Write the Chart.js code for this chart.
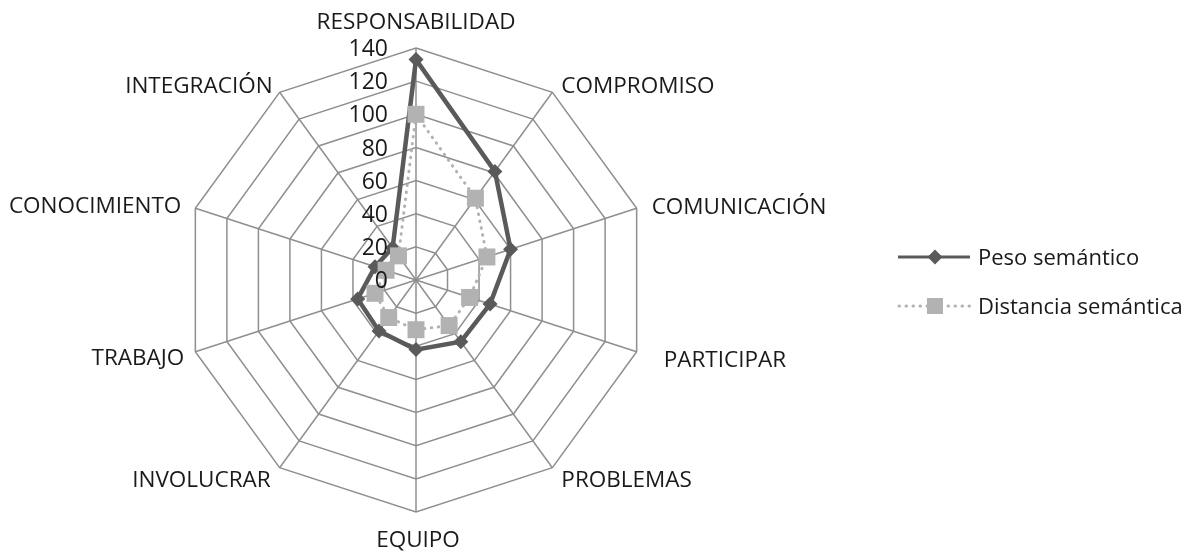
<!DOCTYPE html>
<html>
<head>
<meta charset="utf-8">
<script src="https://cdn.jsdelivr.net/npm/chart.js@4.4.0/dist/chart.umd.min.js"></script>
<style>
  html, body { margin: 0; padding: 0; background: #fff; }
  #wrap { width: 1194px; height: 552px; position: relative; }
</style>
</head>
<body>
<div id="wrap"><canvas id="radar"></canvas></div>
<script>
// categories, clockwise from the top
const categories = ['RESPONSABILIDAD', 'COMPROMISO', 'COMUNICACIÓN', 'PARTICIPAR', 'PROBLEMAS',
  'EQUIPO', 'INVOLUCRAR', 'TRABAJO', 'CONOCIMIENTO', 'INTEGRACIÓN'];
const pesoSemantico = [133, 81, 60, 47, 46, 42, 38, 37, 26, 24];
const distanciaSemantica = [100, 61, 45, 34, 34, 30, 28, 26, 19, 18];
const tickValues = [0, 20, 40, 60, 80, 100, 120, 140];
const seriesNames = ['Peso semántico', 'Distancia semántica'];

const DARK = '#5a5a5a';
const LIGHT = '#b2b2b2';
const GRID = '#8f8f8f';
const TEXT = '#1a1a1a';
const FONT = '"Open Sans", "Noto Sans", sans-serif';

// excel puts the category names a bit off the spokes, nudge each one
const labelNudge = [
  {dx: 0, dy: -27, align: 'center'},
  {dx: 9, dy: -7, align: 'left'},
  {dx: 15, dy: -2, align: 'left'},
  {dx: 27, dy: 7, align: 'left'},
  {dx: 9, dy: 11, align: 'left'},
  {dx: 2, dy: 27, align: 'center'},
  {dx: -9, dy: 11, align: 'right'},
  {dx: -11, dy: 5, align: 'right'},
  {dx: -14, dy: -3, align: 'right'},
  {dx: -7, dy: -7, align: 'right'},
];

const labelsPlugin = {
  id: 'excelLabels',
  afterDatasetsDraw(chart) {
    const ctx = chart.ctx;
    const scale = chart.scales.r;
    ctx.save();
    ctx.fillStyle = TEXT;
    ctx.textBaseline = 'alphabetic';

    // category names
    const size = 22.5;
    ctx.font = size + 'px ' + FONT;
    categories.forEach((name, i) => {
      const p = scale.getPointPosition(i, scale.drawingArea);
      const n = labelNudge[i];
      ctx.textAlign = n.align;
      ctx.fillText(name, p.x + n.dx, p.y + n.dy + size * 0.357);
    });

    // value axis labels, left of the vertical spoke
    const tsize = 23;
    ctx.font = tsize + 'px ' + FONT;
    ctx.textAlign = 'right';
    tickValues.forEach((v) => {
      const y = scale.yCenter - scale.getDistanceFromCenterForValue(v);
      ctx.fillText(String(v), scale.xCenter - 28, y + tsize * 0.357);
    });
    ctx.restore();
  }
};

const legendPlugin = {
  id: 'excelLegend',
  afterDraw(chart) {
    const ctx = chart.ctx;
    const x0 = 898, x1 = 970, xm = 935;
    const rows = [257, 306];
    ctx.save();

    // peso: solid line with diamond
    ctx.strokeStyle = DARK;
    ctx.lineWidth = 3;
    ctx.beginPath();
    ctx.moveTo(x0, rows[0]);
    ctx.lineTo(x1, rows[0]);
    ctx.stroke();
    ctx.fillStyle = DARK;
    ctx.beginPath();
    ctx.moveTo(xm - 7.5, rows[0]);
    ctx.lineTo(xm, rows[0] - 7.5);
    ctx.lineTo(xm + 7.5, rows[0]);
    ctx.lineTo(xm, rows[0] + 7.5);
    ctx.closePath();
    ctx.fill();

    // distancia: dotted line with square
    ctx.strokeStyle = LIGHT;
    ctx.lineWidth = 3;
    ctx.lineCap = 'round';
    ctx.setLineDash([0.5, 6.5]);
    ctx.beginPath();
    ctx.moveTo(x0 + 1, rows[1]);
    ctx.lineTo(x1, rows[1]);
    ctx.stroke();
    ctx.setLineDash([]);
    ctx.fillStyle = LIGHT;
    ctx.fillRect(xm - 8, rows[1] - 8, 16, 16);

    const size = 22;
    ctx.font = size + 'px ' + FONT;
    ctx.fillStyle = TEXT;
    ctx.textAlign = 'left';
    ctx.textBaseline = 'alphabetic';
    seriesNames.forEach((name, i) => {
      ctx.fillText(name, 978, rows[i] + size * 0.357);
    });
    ctx.restore();
  }
};

new Chart(document.getElementById('radar'), {
  type: 'radar',
  data: {
    labels: categories,
    datasets: [
      {
        label: seriesNames[0],
        data: pesoSemantico,
        order: 1,
        fill: false,
        borderColor: DARK,
        borderWidth: 4.5,
        pointStyle: 'rectRot',
        pointRadius: 7.5,
        pointBackgroundColor: DARK,
        pointBorderWidth: 0,
      },
      {
        label: seriesNames[1],
        data: distanciaSemantica,
        order: 0,
        fill: false,
        borderColor: LIGHT,
        borderWidth: 3,
        borderDash: [0.5, 6.5],
        borderCapStyle: 'round',
        pointStyle: 'rect',
        pointRadius: 12,
        pointBackgroundColor: LIGHT,
        pointBorderWidth: 0,
      }
    ]
  },
  options: {
    responsive: true,
    maintainAspectRatio: false,
    animation: false,
    layout: { padding: { left: 184, right: 546, top: 48, bottom: 40 } },
    elements: { line: { tension: 0 } },
    plugins: {
      legend: { display: false },
      tooltip: { enabled: false },
    },
    scales: {
      r: {
        min: 0,
        max: 140,
        ticks: { stepSize: 20, display: false },
        pointLabels: { display: false },
        grid: { color: GRID, lineWidth: 1.5 },
        angleLines: { color: GRID, lineWidth: 1.5 },
      }
    }
  },
  plugins: [labelsPlugin, legendPlugin]
});
</script>
</body>
</html>
